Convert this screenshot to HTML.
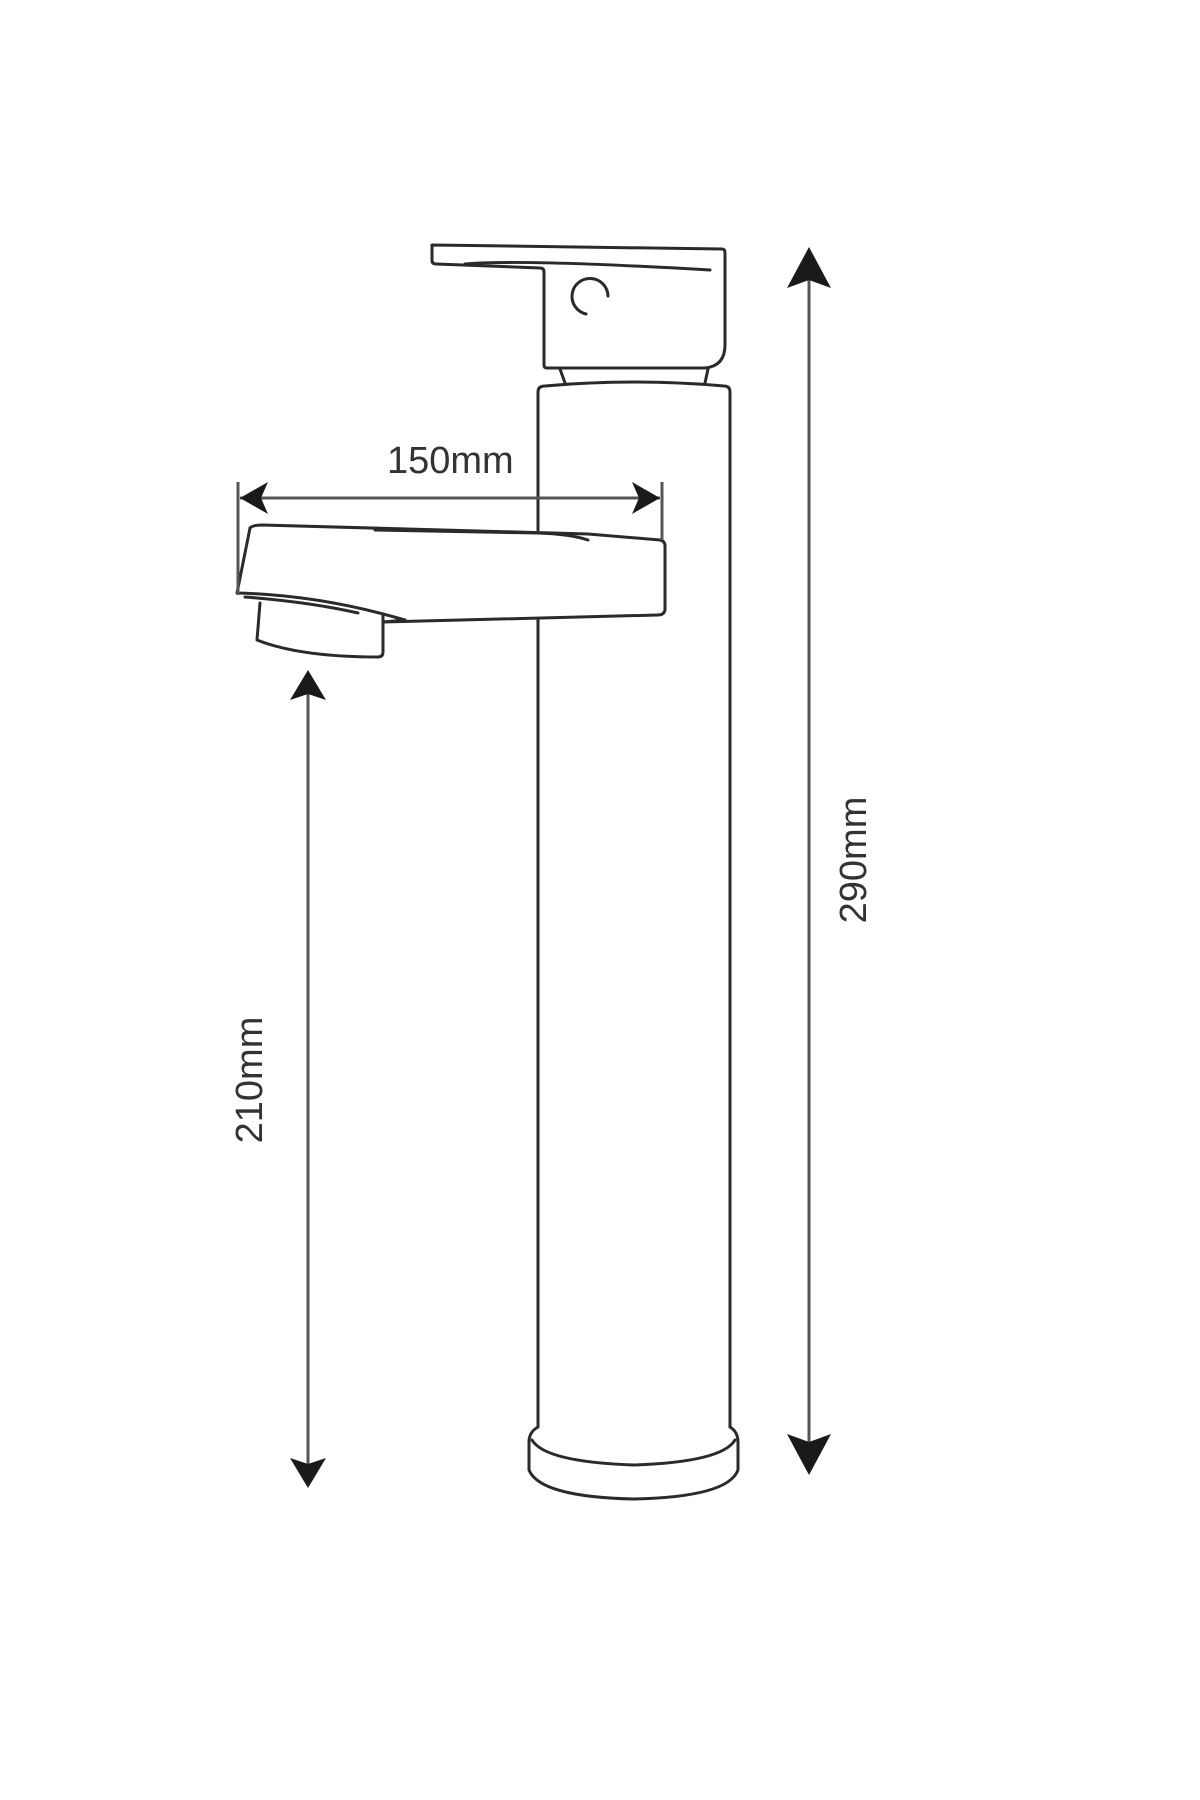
<!DOCTYPE html>
<html><head><meta charset="utf-8"><style>
html,body{margin:0;padding:0;background:#fff;}
svg{display:block;}
text{font-family:"Liberation Sans",sans-serif;fill:#333;}
</style></head><body>
<svg width="1200" height="1800" viewBox="0 0 1200 1800" xmlns="http://www.w3.org/2000/svg">
<g fill="none" stroke="#2a2a2a" stroke-width="3" stroke-linejoin="round" stroke-linecap="round">
<!-- handle -->
<path d="M432,245 L722,249 Q725,249 725,253 L725,345 Q725,366 705,368 L547,368 Q544,368 544,365 L544,272 Q544,268 540,268 L436,264 Q432,264 432,260 Z"/>
<path d="M465,264 Q520,259 710,270"/>
<path d="M586,314 A18,18 0 1 1 608,296"/>
<!-- collar -->
<path d="M560,369 L565,383 M708,369 L705,383"/>
<!-- column -->
<path d="M538,530 L538,392 Q538,386 545,386 Q634,378 724,386 Q730,386 730,392 L730,1427"/>
<path d="M538,620 L538,1427"/>
<!-- base -->
<path d="M538,1427 Q529,1432 529,1442 L529,1470 Q540,1497 634,1499 Q728,1497 738,1470 L738,1442 Q738,1432 730,1427"/>
<path d="M532,1440 Q545,1462 634,1465 Q722,1462 735,1440"/>
<!-- spout -->
<path d="M250,528 Q253,525 262,525 L588,534 L660,540 Q665,541 665,546 L665,610 Q664,615 658,615 L383,622"/>
<path d="M250,528 L237,593 Q320,595 405,620 L383,622"/>
<path d="M245,597 Q310,602 358,613"/>
<path d="M260,603 L257,640 Q300,657 378,657 Q383,657 383,652 L383,614"/>
<path d="M375,530 L538,533 Q570,534 588,540"/>
</g>
<!-- dimension lines -->
<g stroke="#555" stroke-width="3" fill="none">
<line x1="238" y1="482" x2="238" y2="595"/>
<line x1="662" y1="482" x2="662" y2="540"/>
<line x1="240" y1="498" x2="660" y2="498"/>
<line x1="308" y1="690" x2="308" y2="1470"/>
<line x1="809" y1="270" x2="809" y2="1455"/>
</g>
<g fill="#1a1a1a">
<path d="M240,498 L268,482 L261,498 L268,514 Z"/>
<path d="M660,498 L632,482 L639,498 L632,514 Z"/>
<path d="M308,670 L290,700 L308,694 L326,700 Z"/>
<path d="M308,1488 L290,1458 L308,1464 L326,1458 Z"/>
<path d="M809,247 L787,288 L809,280 L831,288 Z"/>
<path d="M809,1475 L787,1434 L809,1442 L831,1434 Z"/>
</g>
<text x="387" y="473" font-size="38">150mm</text>
<text transform="translate(262,1080) rotate(-90)" font-size="38" text-anchor="middle">210mm</text>
<text transform="translate(866,860) rotate(-90)" font-size="38" text-anchor="middle">290mm</text>
</svg>
</body></html>
